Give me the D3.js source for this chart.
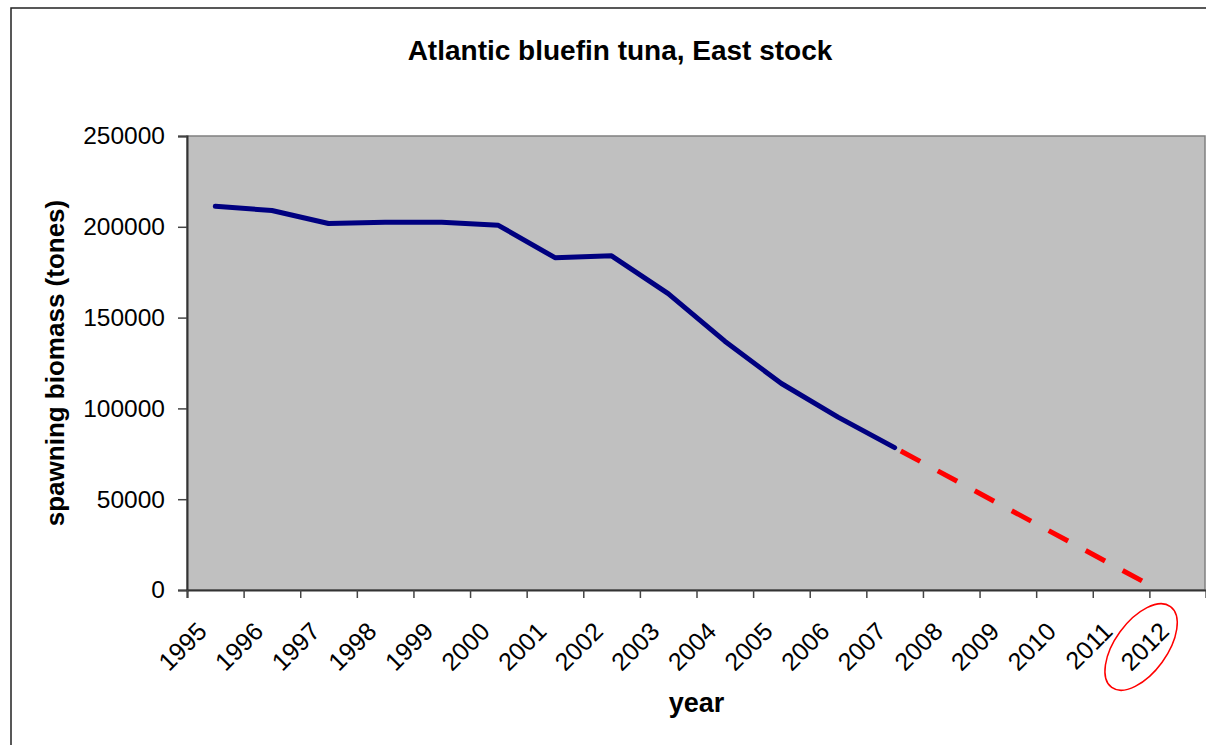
<!DOCTYPE html>
<html><head><meta charset="utf-8">
<script src="https://cdn.jsdelivr.net/npm/d3@7"></script>
<style>
body{margin:0;background:#fff;overflow:hidden}
svg{display:block;font-family:Arial,"Liberation Sans",sans-serif}
</style>
</head><body>
<svg id="c" width="1206" height="745"></svg>
<script>
// ---- data ----
const years = ["1995","1996","1997","1998","1999","2000","2001","2002","2003","2004","2005","2006","2007","2008","2009","2010","2011","2012"];
const biomassYears = [1995,1996,1997,1998,1999,2000,2001,2002,2003,2004,2005,2006,2007];
const biomass = [211300,209000,201800,202500,202500,200800,183000,184000,163200,137000,113700,95200,78400];
const projYears = [2007, 2011.4];
const projValues = [78400, 4500];
const yTicks = [0,50000,100000,150000,200000,250000];
const highlightYear = "2012";
const title = "Atlantic bluefin tuna, East stock";
const yTitle = "spawning biomass (tones)";
const xTitle = "year";

// ---- layout ----
const W = 1206, H = 745;
const L = 187, R = 1206, T = 136, B = 590;
const svg = d3.select("#c");

const xBand = d3.scaleBand().domain(years).range([L, R]).padding(0);
const bw = xBand.bandwidth();
const xLin = d3.scaleLinear().domain([+years[0] - 0.5, +years[years.length-1] + 0.5]).range([L, R]);
const y = d3.scaleLinear().domain([0, 250000]).range([B, T]);

// outer chart border
svg.append("rect").attr("x", 11).attr("y", 8).attr("width", W + 40).attr("height", H + 40)
  .attr("fill", "#fff").attr("stroke", "#222").attr("stroke-width", 1.5);

// title
svg.append("text").attr("x", 620).attr("y", 60).attr("text-anchor", "middle")
  .attr("font-size", 28).attr("font-weight", "bold").text(title);

// plot area
svg.append("rect").attr("x", L).attr("y", T).attr("width", R - L - 1).attr("height", B - T)
  .attr("fill", "#c0c0c0").attr("stroke", "#808080").attr("stroke-width", 1.5);

// y axis
const yAxis = d3.axisLeft(y).tickValues(yTicks).tickSize(9).tickPadding(13).tickFormat(d3.format("d"));
const gy = svg.append("g").attr("transform", `translate(${L},0)`).call(yAxis);
gy.select(".domain").attr("stroke", "#333").attr("stroke-width", 2);
gy.selectAll(".tick line").attr("stroke", "#444").attr("stroke-width", 1.5);
gy.selectAll(".tick text").attr("font-size", 24.5).attr("fill", "#000").attr("font-family", "Arial, 'Liberation Sans', sans-serif");

// x axis: ticks at category boundaries
const boundaries = d3.range(years.length + 1).map(i => +years[0] - 0.5 + i);
const xAxis = d3.axisBottom(xLin).tickValues(boundaries).tickSize(8).tickFormat("");
const gx = svg.append("g").attr("transform", `translate(0,${B})`).call(xAxis);
gx.select(".domain").attr("stroke", "#333").attr("stroke-width", 2);
gx.selectAll(".tick line").attr("stroke", "#444").attr("stroke-width", 1.5);

// x labels
svg.append("g").selectAll("text").data(years).join("text")
  .attr("transform", d => `translate(${xBand(d) + bw/2 - 7},633) rotate(-45)`)
  .attr("text-anchor", "end").attr("font-size", 25).attr("fill", "#000").text(d => d);

// axis titles
svg.append("text").attr("transform", `translate(64,${(T+B)/2}) rotate(-90)`)
  .attr("text-anchor", "middle").attr("font-size", 26).attr("font-weight", "bold").text(yTitle);
svg.append("text").attr("x", (L+R)/2).attr("y", 712).attr("text-anchor", "middle")
  .attr("font-size", 27).attr("font-weight", "bold").text(xTitle);

// lines
const line = d3.line().x(d => xLin(d[0])).y(d => y(d[1]));
svg.append("path").datum(biomassYears.map((yr, i) => [yr, biomass[i]]))
  .attr("d", line).attr("fill", "none").attr("stroke", "#000080").attr("stroke-width", 5)
  .attr("stroke-linecap", "round").attr("stroke-linejoin", "round");
svg.append("path").datum(projYears.map((yr, i) => [yr, projValues[i]]))
  .attr("d", line).attr("fill", "none").attr("stroke", "#ff0000").attr("stroke-width", 5)
  .attr("stroke-dasharray", "22,20").attr("stroke-dashoffset", 35);

// highlight ellipse around 2012 label
const hc = xBand(highlightYear) + bw/2;
svg.append("ellipse").attr("cx", 0).attr("cy", 0).attr("rx", 50).attr("ry", 26)
  .attr("transform", `translate(${hc - 36.6},647) rotate(-54)`)
  .attr("fill", "none").attr("stroke", "#ff0000").attr("stroke-width", 1.5);
</script>
</body></html>
